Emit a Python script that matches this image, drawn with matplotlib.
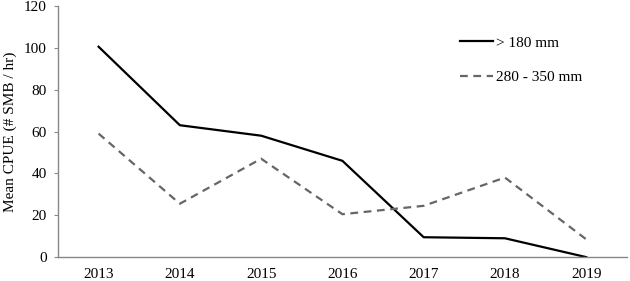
import matplotlib
matplotlib.use("Agg")
import matplotlib.pyplot as plt

years = ["2013", "2014", "2015", "2016", "2017", "2018", "2019"]
over_180 = [100.5, 63, 58, 46, 9.5, 9, 0]
range_280_350 = [59, 25.5, 47, 20.5, 24.5, 38, 8.5]
y_ticks = [0, 20, 40, 60, 80, 100, 120]

plt.rcParams['font.family'] = ['Liberation Serif', 'DejaVu Serif']
FS = 11

fig = plt.figure(figsize=(6.3, 2.81), dpi=100)
ax = fig.add_axes([0.092, 0.085, 0.903, 0.894])

x = list(range(len(years)))
ax.plot(x, over_180, color="black", lw=1.6, label="> 180 mm")
ax.plot(x, range_280_350, color="#666666", lw=1.6, ls=(0, (3.5, 2.5)), label="280 - 350 mm")

ax.set_xlim(-0.5, len(years) - 0.5)
ax.set_ylim(0, 120)
ax.set_yticks(y_ticks)
ax.set_xticks(x)
ax.set_xticklabels(years)
ax.tick_params(axis='x', length=0, labelsize=FS, pad=7.5)
ax.tick_params(axis='y', length=3, labelsize=FS, color="#888888", pad=5)
for s in ["top", "right"]:
    ax.spines[s].set_visible(False)
for s in ["left", "bottom"]:
    ax.spines[s].set_color("#888888")
    ax.spines[s].set_linewidth(1.0)
ax.set_ylabel("Mean CPUE (# SMB / hr)", fontsize=FS, labelpad=5)

fig.legend(loc="upper left", bbox_to_anchor=(460 / 630, 1 - 36 / 281), frameon=False, fontsize=FS,
           handlelength=2.15, handletextpad=0.2, labelspacing=1.35, borderpad=0, borderaxespad=0)

fig.savefig("out.png", dpi=100)
